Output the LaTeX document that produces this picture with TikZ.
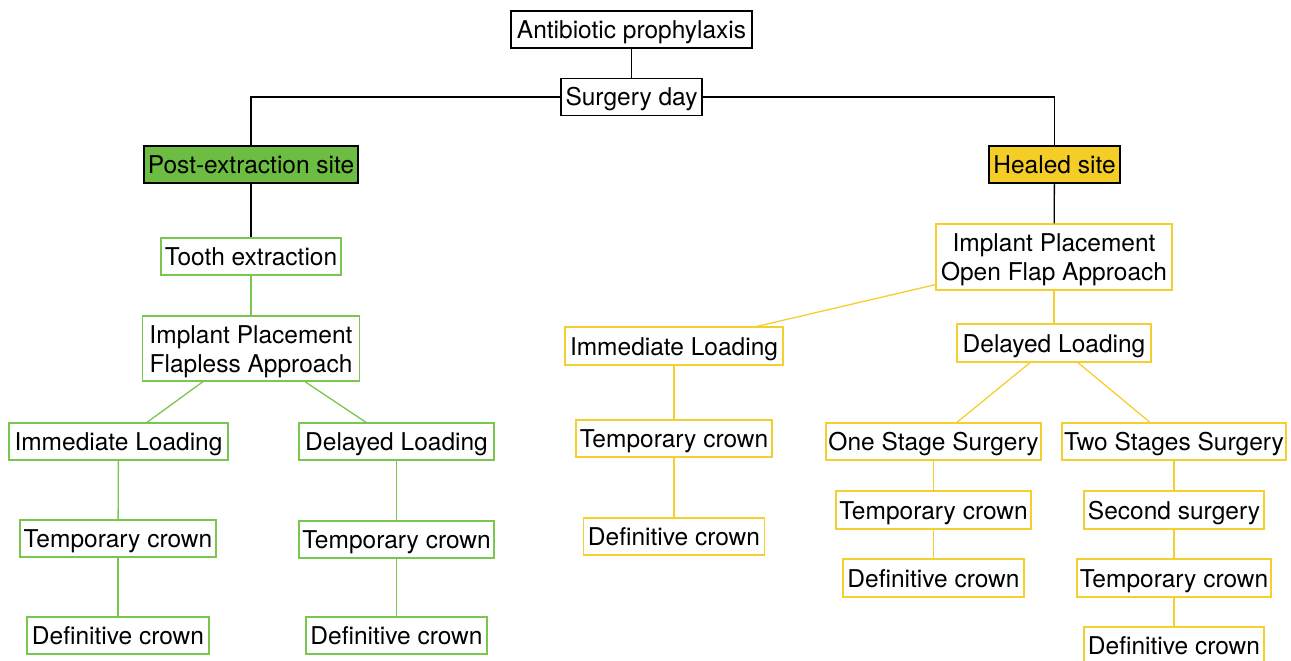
\documentclass[tikz,border=0pt]{standalone}
\usepackage{fontspec}
\setmainfont{TeX Gyre Heros}
\definecolor{gline}{HTML}{7AC74F}
\definecolor{gfill}{HTML}{6CBD42}
\definecolor{yline}{HTML}{F5CF2E}
\definecolor{yfill}{HTML}{F5CD27}
\begin{document}
\begin{tikzpicture}[x=1pt,y=-1pt,
  box/.style={draw, line width=1.3pt, inner sep=0pt, align=center,
    font=\fontsize{24.5}{29}\selectfont, minimum height=37pt,
    text height=18pt, text depth=0pt},
  twoline/.style={text height=47pt, text depth=0pt},
  blk/.style={box, draw=black},
  grn/.style={box, draw=gline},
  yel/.style={box, draw=yline},
  bl/.style={line width=1.3pt, draw=black},
  gl/.style={line width=1.3pt, draw=gline},
  yl/.style={line width=1.3pt, draw=yline}]
\useasboundingbox (0,0) rectangle (1291,661);
% top
\node[blk, minimum width=241pt] (anti) at (631.5,29.5) {Antibiotic prophylaxis};
\node[blk, minimum width=141pt] (surg) at (631.5,97) {Surgery day};
\node[blk, minimum width=214pt, fill=gfill] (post) at (251,164.5) {Post-extraction site};
\node[blk, minimum width=131pt, fill=yfill] (heal) at (1054.5,164.5) {Healed site};
% left branch
\node[grn, minimum width=180pt] (tooth) at (251,256.5) {Tooth extraction};
\node[grn, twoline, minimum width=217pt, minimum height=65pt] (flap) at (251,348.5) {Implant Placement\\Flapless Approach};
\node[grn, minimum width=219pt] (limm) at (118.5,441.5) {Immediate Loading};
\node[grn, minimum width=195pt] (ldel) at (396.5,441.5) {Delayed Loading};
\node[grn, minimum width=196pt] (ltmp1) at (118,538.5) {Temporary crown};
\node[grn, minimum width=182pt] (ldef1) at (118,635.5) {Definitive crown};
\node[grn, minimum width=195pt] (ltmp2) at (396.5,539.5) {Temporary crown};
\node[grn, minimum width=181pt] (ldef2) at (396.5,635.5) {Definitive crown};
% right branch
\node[yel, twoline, minimum width=236pt, minimum height=66pt] (open) at (1054,257) {Implant Placement\\Open Flap Approach};
\node[yel, minimum width=218pt, minimum height=38pt] (rimm) at (674,346) {Immediate Loading};
\node[yel, minimum width=194pt, minimum height=38pt] (rdel) at (1054,343) {Delayed Loading};
\node[yel, minimum width=196pt] (mtmp) at (674,438.5) {Temporary crown};
\node[yel, minimum width=181pt] (mdef) at (674,536.5) {Definitive crown};
\node[yel, minimum width=215pt] (one) at (933.5,441.5) {One Stage Surgery};
\node[yel, minimum width=224pt] (two) at (1174,441.5) {Two Stages Surgery};
\node[yel, minimum width=195pt, minimum height=38pt] (otmp) at (933.5,510) {Temporary crown};
\node[yel, minimum width=181pt, minimum height=38pt] (odef) at (933.5,578) {Definitive crown};
\node[yel, minimum width=180pt, minimum height=38pt] (sec) at (1174,510) {Second surgery};
\node[yel, minimum width=194pt, minimum height=38pt] (ttmp) at (1174,578) {Temporary crown};
\node[yel, minimum width=180pt] (tdef) at (1174,645.5) {Definitive crown};
% connectors
\draw[bl] (anti) -- (surg);
\draw[bl] (surg.west) -| (post.north);
\draw[bl] (surg.east) -| (heal.north);
\draw[bl] (post) -- (tooth);
\draw[bl] (heal) -- (open);
\draw[gl] (tooth) -- (flap);
\draw[gl] ([xshift=-48pt]flap.south) -- ([xshift=28.5pt]limm.north);
\draw[gl] ([xshift=54pt]flap.south) -- ([xshift=-30.5pt]ldel.north);
\draw[gl] (limm) -- (ltmp1);
\draw[gl] (ltmp1) -- (ldef1);
\draw[gl] (ldel) -- (ltmp2);
\draw[gl] (ltmp2) -- (ldef2);
\draw[yl] ([yshift=6pt]open.south west) -- ([xshift=83pt]rimm.north);
\draw[yl] (open) -- (rdel);
\draw[yl] (rimm) -- (mtmp);
\draw[yl] (mtmp) -- (mdef);
\draw[yl] ([xshift=-24pt]rdel.south) -- ([xshift=23.5pt]one.north);
\draw[yl] ([xshift=24pt]rdel.south) -- ([xshift=-24pt]two.north);
\draw[yl] (one) -- (otmp);
\draw[yl] (otmp) -- (odef);
\draw[yl] (two) -- (sec);
\draw[yl] (sec) -- (ttmp);
\draw[yl] (ttmp) -- (tdef);
\end{tikzpicture}
\end{document}
